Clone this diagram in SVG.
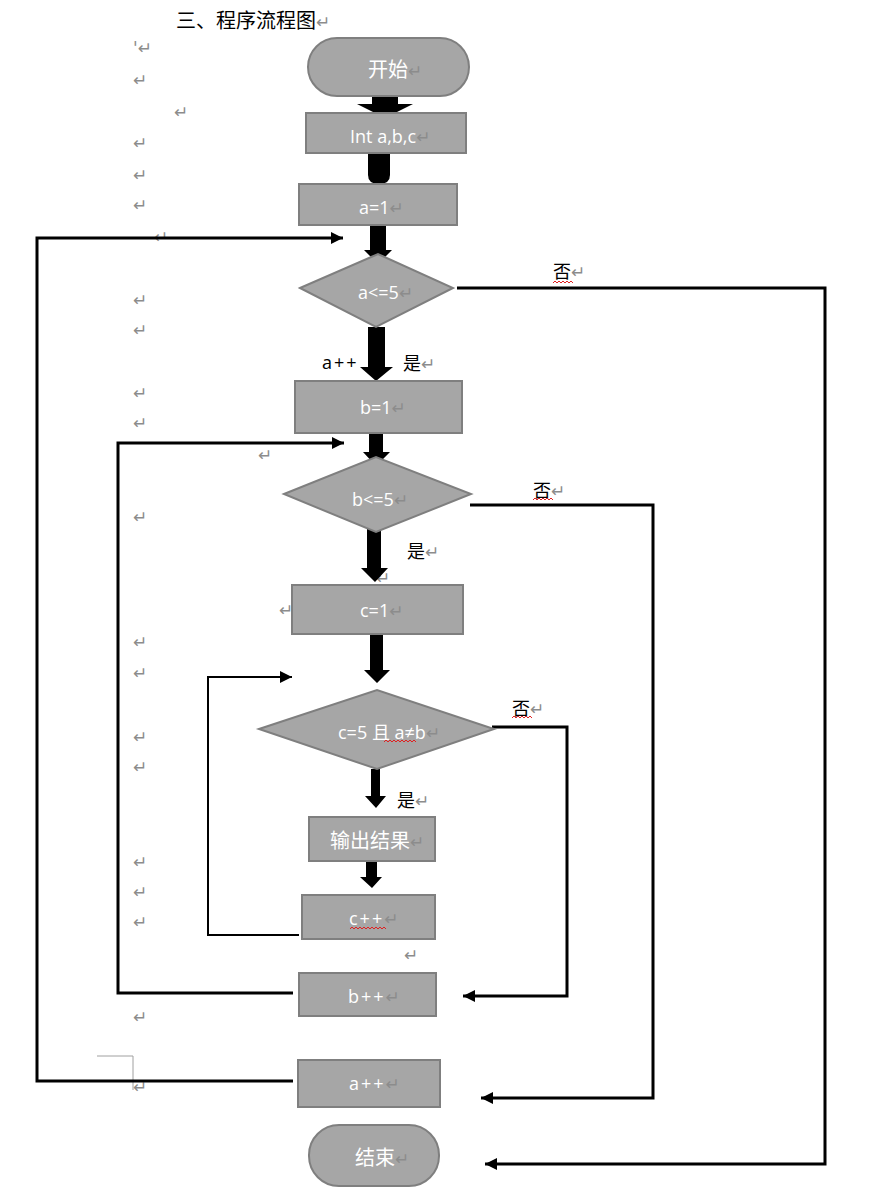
<svg xmlns="http://www.w3.org/2000/svg" width="885" height="1189" viewBox="0 0 885 1189">
<style>
.box{fill:#a6a6a6;stroke:#7f7f7f;stroke-width:2}
.t{fill:#ffffff;font-family:'Open Sans','Noto Sans CJK SC',sans-serif;font-size:18px}
.tc{fill:#ffffff;font-family:'Noto Sans CJK SC','Open Sans',sans-serif;font-size:20px}
.lb{fill:#000000;font-family:'Noto Sans CJK SC','Open Sans',sans-serif;font-size:18px}
.pm{fill:#8c8c8c;font-family:'DejaVu Sans',sans-serif;font-size:17px}
.thick{fill:#000000}
.ln{fill:none;stroke:#000000;stroke-width:3}
.wave{fill:none;stroke:#e02020;stroke-width:1}
</style>
<defs>
<marker id="ah" markerUnits="userSpaceOnUse" markerWidth="14" markerHeight="12" refX="12" refY="6" orient="auto">
<path d="M0,0 L12,6 L0,12 Z" fill="#000"/>
</marker>
</defs>
<rect width="885" height="1189" fill="#ffffff"/>

<text x="176" y="28" style="font-family:'Noto Sans CJK SC',sans-serif;font-size:20px;fill:#000">三、程序流程图<tspan class="pm">↵</tspan></text>

<g id="marks">
<text class="pm" x="133" y="54">'↵</text>
<text class="pm" x="133" y="86">↵</text>
<text class="pm" x="174" y="118">↵</text>
<text class="pm" x="133" y="149">↵</text>
<text class="pm" x="133" y="181">↵</text>
<text class="pm" x="133" y="211">↵</text>
<text class="pm" x="154" y="243">↵</text>
<text class="pm" x="133" y="306">↵</text>
<text class="pm" x="133" y="336">↵</text>
<text class="pm" x="133" y="399">↵</text>
<text class="pm" x="133" y="429">↵</text>
<text class="pm" x="258" y="461">↵</text>
<text class="pm" x="133" y="523">↵</text>
<text class="pm" x="376" y="584">↵</text>
<text class="pm" x="279" y="616">↵</text>
<text class="pm" x="133" y="648">↵</text>
<text class="pm" x="133" y="679">↵</text>
<text class="pm" x="133" y="743">↵</text>
<text class="pm" x="133" y="773">↵</text>
<text class="pm" x="133" y="868">↵</text>
<text class="pm" x="133" y="898">↵</text>
<text class="pm" x="133" y="928">↵</text>
<text class="pm" x="404" y="961">↵</text>
<text class="pm" x="133" y="1023">↵</text>
<text class="pm" x="133" y="1093">↵</text>
<path d="M97,1056 L133,1056 L133,1090" fill="none" stroke="#a0a0a0" stroke-width="1"/>
</g>

<g id="connectors">
<polygon class="thick" points="372,96 398,96 398,104 413,104 385,118 357,104 372,104"/>
<path class="thick" d="M368,153 L390,153 L390,175 Q390,184 379,184 Q368,184 368,175 Z"/>
<polygon class="thick" points="370,225 386,225 386,250 392,250 378,264 364,250 370,250"/>
<polygon class="thick" points="368,327 385,327 385,367 393,367 376,381 360,367 368,367"/>
<polygon class="thick" points="369,433 383,433 383,452 390,452 376,466 363,452 369,452"/>
<polygon class="thick" points="367,528 381,528 381,568 388,568 375,582 361,568 367,568"/>
<polygon class="thick" points="370,634 383,634 383,670 390,670 377,683 364,670 370,670"/>
<polygon class="thick" points="371,769 380,769 380,796 386,796 376,808 365,796 371,796"/>
<polygon class="thick" points="366,861 377,861 377,877 382,877 372,888 360,877 366,877"/>

<path class="ln" d="M457,288 L825,288 L825,1164 L485,1164" marker-end="url(#ah)"/>
<path class="ln" d="M470,505 L653,505 L653,1098 L481,1098" marker-end="url(#ah)"/>
<path class="ln" d="M492,727 L567,727 L567,996 L463,996" marker-end="url(#ah)"/>
<path class="ln" style="stroke-width:2" d="M299,935 L208,935 L208,677 L292,677" marker-end="url(#ah)"/>
<path class="ln" d="M293,993 L118,993 L118,443 L344,443" marker-end="url(#ah)"/>
<path class="ln" d="M293,1081 L37,1081 L37,238 L343,238" marker-end="url(#ah)"/>

<text class="lb" x="553" y="278" font-size="19">否<tspan class="pm">↵</tspan></text>
<path class="wave" d="M553,283 l2,-2 l2,2 l2,-2 l2,2 l2,-2 l2,2 l2,-2 l2,2 l2,-2 l2,2"/>
<text class="lb" x="533" y="497" font-size="19">否<tspan class="pm">↵</tspan></text>
<path class="wave" d="M533,500 l2,-2 l2,2 l2,-2 l2,2 l2,-2 l2,2 l2,-2 l2,2 l2,-2 l2,2"/>
<text class="lb" x="512" y="715" font-size="19">否<tspan class="pm">↵</tspan></text>
<path class="wave" d="M512,718 l2,-2 l2,2 l2,-2 l2,2 l2,-2 l2,2 l2,-2 l2,2 l2,-2 l2,2"/>
<text class="lb" x="322" y="369" letter-spacing="2" style="font-family:'Open Sans',sans-serif">a++</text>
<text class="lb" x="403" y="370">是<tspan class="pm">↵</tspan></text>
<text class="lb" x="407" y="558">是<tspan class="pm">↵</tspan></text>
<text class="lb" x="397" y="807">是<tspan class="pm">↵</tspan></text>
</g>

<g id="start">
<rect class="box" x="308" y="38" width="161" height="58" rx="29"/>
<text class="tc" x="368" y="77">开始<tspan class="pm">↵</tspan></text>
</g>
<g id="int">
<rect class="box" x="306" y="113" width="160" height="40"/>
<text class="t" x="350" y="143">Int a,b,c<tspan class="pm">↵</tspan></text>
</g>
<g id="a1">
<rect class="box" x="299" y="184" width="158" height="41"/>
<text class="t" x="359" y="214" font-size="19">a=1<tspan class="pm">↵</tspan></text>
</g>
<g id="dec_a">
<polygon class="box" points="300,288 378,254 453,288 376,327"/>
<text class="t" x="358" y="299" font-size="14">a&lt;=5<tspan class="pm" font-size="14">↵</tspan></text>
</g>
<g id="b1">
<rect class="box" x="295" y="381" width="167" height="52"/>
<text class="t" x="360" y="414" font-size="20">b=1<tspan class="pm">↵</tspan></text>
</g>
<g id="dec_b">
<polygon class="box" points="284,494 376,457 471,494 376,532"/>
<text class="t" x="352" y="506" font-size="21">b&lt;=5<tspan class="pm">↵</tspan></text>
</g>
<g id="c1">
<rect class="box" x="292" y="585" width="171" height="49"/>
<text class="t" x="360" y="617" font-size="20">c=1<tspan class="pm">↵</tspan></text>
</g>
<g id="dec_c">
<polygon class="box" points="259,729 377,690 494,729 377,769"/>
<text class="t" x="338" y="739" font-size="14">c=5 且 a≠b<tspan class="pm" font-size="14">↵</tspan></text>
<path class="wave" d="M384,742 l2,-2 l2,2 l2,-2 l2,2 l2,-2 l2,2 l2,-2 l2,2 l2,-2 l2,2 l2,-2 l2,2 l2,-2 l2,2 l2,-2 l2,2"/>
</g>
<g id="output">
<rect class="box" x="309" y="817" width="126" height="44"/>
<text class="tc" x="330" y="848">输出结果<tspan class="pm">↵</tspan></text>
</g>
<g id="cpp">
<rect class="box" x="302" y="895" width="133" height="44"/>
<text class="t" x="349" y="925" letter-spacing="2">c++<tspan class="pm" letter-spacing="0">↵</tspan></text>
<path class="wave" d="M350,929 l2,-2 l2,2 l2,-2 l2,2 l2,-2 l2,2 l2,-2 l2,2 l2,-2 l2,2 l2,-2 l2,2 l2,-2 l2,2 l2,-2 l2,2 l2,-2 l2,2"/>
</g>
<g id="bpp">
<rect class="box" x="299" y="973" width="137" height="43"/>
<text class="t" x="348" y="1003" letter-spacing="2">b++<tspan class="pm" letter-spacing="0">↵</tspan></text>
</g>
<g id="app">
<rect class="box" x="298" y="1060" width="142" height="47"/>
<text class="t" x="349" y="1090" letter-spacing="2">a++<tspan class="pm" letter-spacing="0">↵</tspan></text>
</g>
<g id="end">
<rect class="box" x="309" y="1125" width="130" height="61" rx="30"/>
<text class="tc" x="355" y="1165" font-size="19">结束<tspan class="pm">↵</tspan></text>
</g>
</svg>
